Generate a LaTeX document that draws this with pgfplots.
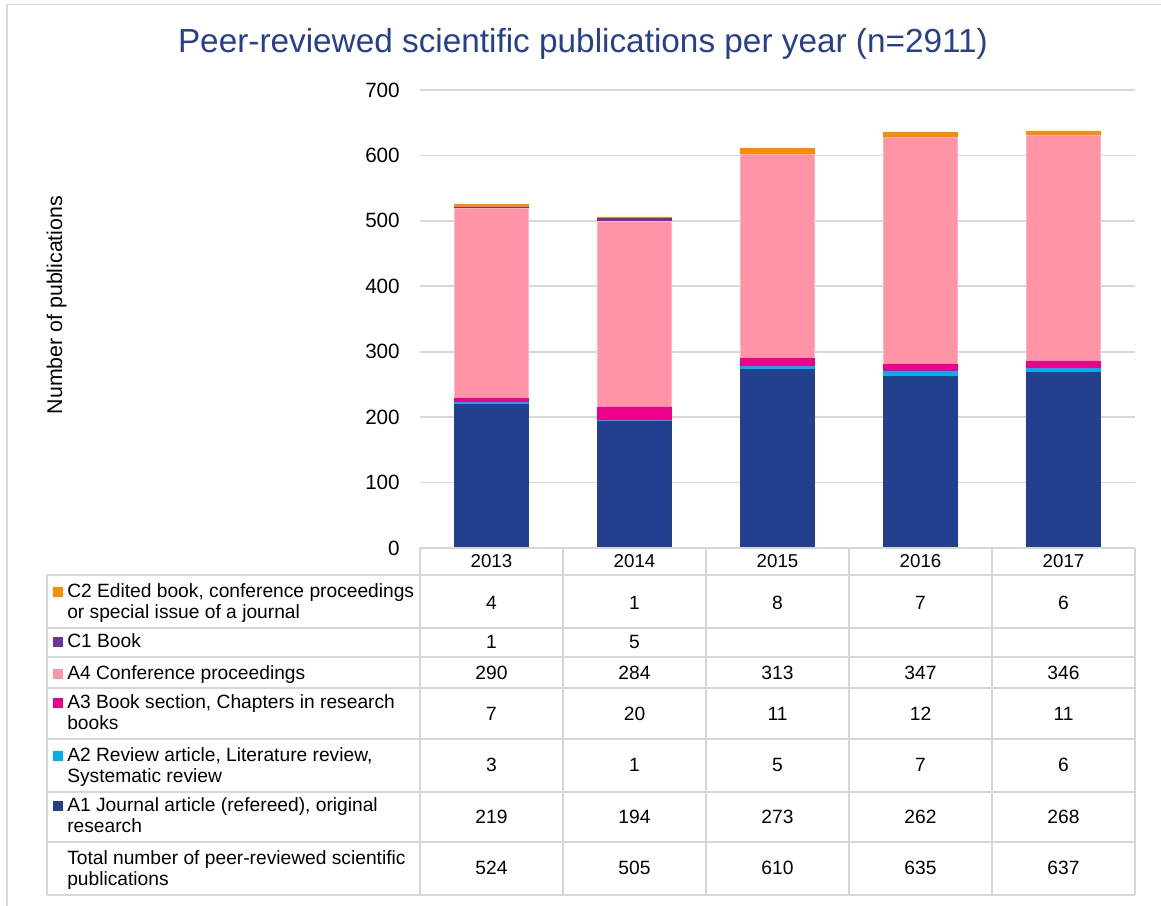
\documentclass[border=0pt]{standalone}
\usepackage{pgfplots}
\pgfplotsset{compat=1.18}
\usepackage{fontspec}
\setmainfont{Liberation Sans}
\definecolor{cA1}{HTML}{22408E}
\definecolor{cA2}{HTML}{00B0F0}
\definecolor{cA3}{HTML}{EC008C}
\definecolor{cA4}{HTML}{FF94A6}
\definecolor{cC1}{HTML}{7030A0}
\definecolor{cC2}{HTML}{FF8C00}
\definecolor{ttl}{HTML}{26408F}
\definecolor{gridc}{HTML}{D9D9D9}
\definecolor{tabc}{HTML}{D6D6D6}
\begin{document}
\begin{tikzpicture}
\useasboundingbox (0pt,0pt) rectangle (870.75pt,-679.5pt);
\begin{axis}[
  at={(315pt,-411pt)}, anchor=south west,
  width=536.25pt, height=343.5pt, scale only axis,
  ybar stacked, bar width=0.52,
  xmin=-0.5, xmax=4.5, ymin=0, ymax=700,
  xtick=\empty, ytick={0,100,...,700},
  axis line style={draw=none},
  major tick length=0pt,
  ymajorgrids, grid style={gridc, line width=1.3pt},
  yticklabel style={font=\fontsize{15.5}{18}\selectfont, anchor=east, inner sep=0pt, xshift=-15pt},
  /pgf/number format/assume math mode=true,
  clip=false,
]
\addplot[fill=cA1, draw=cA1, line width=0.5pt] coordinates {(0,219) (1,194) (2,273) (3,262) (4,268)};
\addplot[fill=cA2, draw=cA2, line width=0.9pt] coordinates {(0,3) (1,1) (2,5) (3,7) (4,6)};
\addplot[fill=cA3, draw=cA3, line width=0.9pt] coordinates {(0,7) (1,20) (2,11) (3,12) (4,11)};
\addplot[fill=cA4, draw=cA4!70!white, line width=0.5pt] coordinates {(0,290) (1,284) (2,313) (3,347) (4,346)};
\addplot[fill=cC1, draw=cC1, line width=1pt] coordinates {(0,1) (1,5) (2,0) (3,0) (4,0)};
\addplot[fill=cC2, draw=cC2, line width=1pt] coordinates {(0,4) (1,1) (2,8) (3,7) (4,6)};
\end{axis}
\begin{scope}[x=0.75pt, y=-0.75pt]
  % outer frame
  \draw[gridc, line width=1.2pt] (7,910) -- (7,4.5) -- (1161,4.5);
  % title
  \node[anchor=base, text=ttl, font=\fontsize{25}{30}\selectfont, inner sep=0pt] at (583,53) {Peer-reviewed scientific publications per year (n=2911)};
  % y label
  \node[anchor=base, rotate=90, font=\fontsize{16}{19}\selectfont, inner sep=0pt] at (62,305) {Number of publications};
  % table lines
  \begin{scope}[tabc, line width=1.4pt]
    \draw (420,548) -- (1135,548);
    \foreach \yy in {575,628,657,688,739,792,842,895} \draw (47,\yy) -- (1135,\yy);
    \draw (47,575) -- (47,895);
    \foreach \xx in {420,563,706,849,992,1135} \draw (\xx,548) -- (\xx,895);
  \end{scope}
  % years
  \begin{scope}[font=\fontsize{14}{16}\selectfont, inner sep=0pt]
    \foreach \yr [count=\i from 0] in {2013,2014,2015,2016,2017}
      \node[anchor=base] at (491.5+143*\i,567) {\yr};
  \end{scope}
  % labels
  \begin{scope}[font=\fontsize{14.4}{16}\selectfont, inner sep=0pt]
    \node[anchor=base west] at (67,597) {C2 Edited book, conference proceedings};
    \node[anchor=base west] at (67,618.5) {or special issue of a journal};
    \node[anchor=base west] at (67,647) {C1 Book};
    \node[anchor=base west] at (67,679) {A4 Conference proceedings};
    \node[anchor=base west] at (67,708) {A3 Book section, Chapters in research};
    \node[anchor=base west] at (67,729.5) {books};
    \node[anchor=base west] at (67,761) {A2 Review article, Literature review,};
    \node[anchor=base west] at (67,782.5) {Systematic review};
    \node[anchor=base west] at (67,811) {A1 Journal article (refereed), original};
    \node[anchor=base west] at (67,832.5) {research};
    \node[anchor=base west] at (67,864) {Total number of peer-reviewed scientific};
    \node[anchor=base west] at (67,885.5) {publications};
  \end{scope}
  % legend squares
  \fill[cC2] (53,587) rectangle (62.5,596.5);
  \fill[cC1] (53,637) rectangle (62.5,646.5);
  \fill[cA4] (53,669) rectangle (62.5,678.5);
  \fill[cA3] (53,698) rectangle (62.5,707.5);
  \fill[cA2] (53,751) rectangle (62.5,760.5);
  \fill[cA1] (53,801) rectangle (62.5,810.5);
  % values
  \begin{scope}[font=\fontsize{14.4}{16}\selectfont, inner sep=0pt]
    \foreach \v [count=\i from 0] in {4,1,8,7,6} \node[anchor=base] at (491.5+143*\i,609) {\v};
    \foreach \v [count=\i from 0] in {1,5} \node[anchor=base] at (491.5+143*\i,648.5) {\v};
    \foreach \v [count=\i from 0] in {290,284,313,347,346} \node[anchor=base] at (491.5+143*\i,679) {\v};
    \foreach \v [count=\i from 0] in {7,20,11,12,11} \node[anchor=base] at (491.5+143*\i,720) {\v};
    \foreach \v [count=\i from 0] in {3,1,5,7,6} \node[anchor=base] at (491.5+143*\i,771) {\v};
    \foreach \v [count=\i from 0] in {219,194,273,262,268} \node[anchor=base] at (491.5+143*\i,823) {\v};
    \foreach \v [count=\i from 0] in {524,505,610,635,637} \node[anchor=base] at (491.5+143*\i,874) {\v};
  \end{scope}
\end{scope}
\end{tikzpicture}
\end{document}
